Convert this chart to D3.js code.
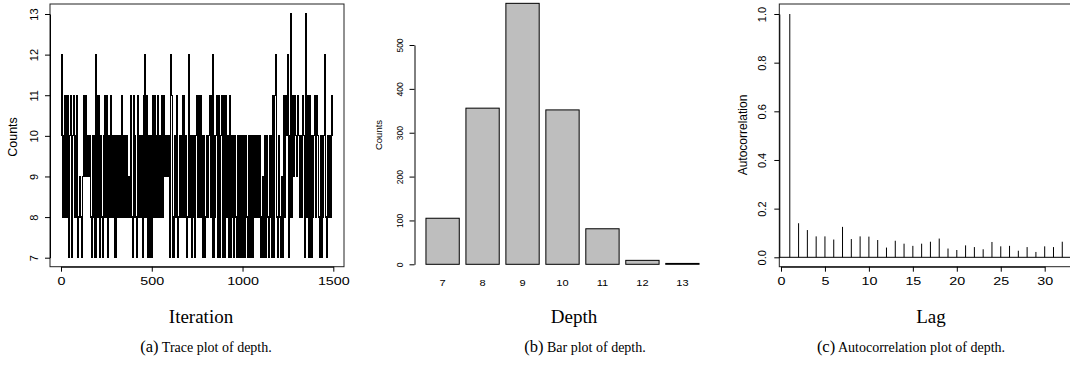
<!DOCTYPE html>
<html>
<head>
<meta charset="utf-8">
<script src="https://cdn.jsdelivr.net/npm/d3@7/dist/d3.min.js"></script>
<style>
  body { margin: 0; background: #fff; }
  svg { display: block; }
</style>
</head>
<body>
<svg id="fig" width="1070" height="367"></svg>
<script>
// ---- data ----
// trace: depth every 5th iteration (0..1495)
const traceStep = 5;
const traceDepth = [
  10,12,8,10,8,11,8,10,11,7,  10,11,7,10,11,8,10,8,11,7,
  8,9,8,7,9,11,10,9,11,9,     10,9,10,8,7,10,8,10,7,12,
  11,8,11,7,10,8,7,10,8,11,   8,11,7,10,8,11,8,10,8,10,
  7,10,8,10,8,10,8,11,8,10,   8,10,8,10,8,9,8,11,8,7,
  11,8,10,8,7,11,8,10,8,10,   7,11,8,12,8,11,7,10,7,10,
  7,11,8,11,8,10,8,11,8,10,   8,11,8,11,9,10,9,10,9,10,
  7,12,11,8,7,8,10,8,11,7,    8,10,8,10,11,8,11,8,10,7,
  8,12,8,10,7,10,8,10,7,10,   11,8,11,8,11,8,10,7,10,7,
  8,10,8,10,11,8,11,12,7,10,  8,10,11,7,11,7,10,11,8,7,
  11,7,11,8,10,7,11,7,10,8,   10,7,10,8,7,10,7,10,7,10,
  8,7,10,7,10,8,7,10,7,10,    7,10,7,10,8,10,8,10,8,10,
  7,8,7,9,7,10,7,10,8,7,      10,8,7,10,11,7,11,12,8,7,
  10,8,7,9,8,7,11,8,11,10,    12,7,10,13,8,10,11,9,11,10,
  9,11,10,8,10,8,10,11,10,7,  13,8,11,7,11,7,10,7,8,10,
  11,8,11,10,8,7,10,7,10,8,   10,12,8,7,10,8,10,8,10,11
];
const traceXTicks = [0, 500, 1000, 1500];
const traceYTicks = [7, 8, 9, 10, 11, 12, 13];

const depthLevels = ["7", "8", "9", "10", "11", "12", "13"];
const depthCounts = [105, 356, 595, 352, 81, 9, 2];
const barYTicks = [0, 100, 200, 300, 400, 500];

const acfLags = [1,2,3,4,5,6,7,8,9,10,11,12,13,14,15,16,17,18,19,20,21,22,23,24,25,26,27,28,29,30,31,32];
const acfValues = [1.0, 0.14, 0.112, 0.086, 0.086, 0.073, 0.125, 0.075, 0.086, 0.085, 0.071, 0.04,
  0.068, 0.056, 0.047, 0.056, 0.064, 0.077, 0.036, 0.03, 0.049, 0.042, 0.033, 0.063,
  0.045, 0.047, 0.027, 0.042, 0.022, 0.045, 0.042, 0.064];
const acfXTicks = [0, 5, 10, 15, 20, 25, 30];
const acfYTicks = [0, 0.2, 0.4, 0.6, 0.8, 1.0];

const captions = [
  { tag: "(a)", text: " Trace plot of depth.", cx: 206 },
  { tag: "(b)", text: " Bar plot of depth.", cx: 585 },
  { tag: "(c)", text: " Autocorrelation plot of depth.", cx: 911 }
];

// ---- drawing ----
const svg = d3.select("#fig");
const SANS = "'Liberation Sans', Arial, sans-serif";
const SERIF = "'Liberation Serif', 'Times New Roman', serif";

// R-like axes: bottom labels a bit stretched, left labels rotated
function bottomAxis(g, scale, ticks, y, size, labelY, stretch) {
  const ax = g.append("g").attr("transform", "translate(0," + y + ")")
    .call(d3.axisBottom(scale).tickValues(ticks).tickSize(5).tickSizeOuter(0)
      .tickFormat(d3.format("")));
  ax.select(".domain").attr("stroke", "#000");
  ax.selectAll(".tick line").attr("stroke", "#000");
  ax.selectAll("text")
    .attr("y", labelY).attr("dy", 0)
    .attr("transform", "scale(" + stretch + ",1)")
    .style("font-family", SANS).style("font-size", size + "px").attr("fill", "#000");
  return ax;
}
function leftAxis(g, scale, ticks, x, size, off, fmt) {
  const ax = g.append("g").attr("transform", "translate(" + x + ",0)")
    .call(d3.axisLeft(scale).tickValues(ticks).tickSize(5).tickSizeOuter(0).tickFormat(fmt));
  ax.select(".domain").attr("stroke", "#000");
  ax.selectAll(".tick line").attr("stroke", "#000");
  ax.selectAll("text")
    .attr("x", 0).attr("y", 0).attr("dy", 0)
    .attr("transform", "translate(" + (-off) + ",0) rotate(-90)")
    .style("text-anchor", "middle")
    .style("font-family", SANS).style("font-size", size + "px").attr("fill", "#000");
  return ax;
}

// (a) trace plot
const ga = svg.append("g");
const xT = d3.scaleLinear().domain([0, 1500]).range([61, 333.3]);
const yT = d3.scaleLinear().domain([7, 13]).range([257.7, 14]);

ga.append("path")
  .datum(traceDepth)
  .attr("fill", "none")
  .attr("stroke", "#000")
  .attr("stroke-width", 1.2)
  .attr("shape-rendering", "crispEdges")
  .attr("d", d3.line().curve(d3.curveStep)
    .x((d, i) => xT(i * traceStep)).y(d => yT(d)));

ga.append("rect").attr("x", 50).attr("y", 4).attr("width", 294).attr("height", 262.7)
  .attr("fill", "none").attr("stroke", "#222");
bottomAxis(ga, xT, traceXTicks, 266.7, 11, 18, 1.3);
leftAxis(ga, yT, traceYTicks, 50, 11, 12.5, d3.format(""));
ga.append("text").attr("transform", "translate(17,137) rotate(-90)")
  .attr("text-anchor", "middle").style("font-family", SANS).style("font-size", "12.5px")
  .text("Counts");
ga.append("text").attr("x", 201).attr("y", 323).attr("text-anchor", "middle")
  .style("font-family", SERIF).style("font-size", "19px").text("Iteration");

// (b) bar plot
const gb = svg.append("g");
const xB = d3.scaleBand().domain(depthLevels).range([419.3, 705.7])
  .paddingInner(0.2 / 1.2).paddingOuter(0.2 / 1.2);
const yB = d3.scaleLinear().domain([0, 500]).range([264.3, 45]);

gb.selectAll("rect.bar")
  .data(depthCounts)
  .enter().append("rect")
  .attr("class", "bar")
  .attr("x", (d, i) => xB(depthLevels[i]))
  .attr("y", d => yB(d))
  .attr("width", xB.bandwidth())
  .attr("height", d => yB(0) - yB(d))
  .attr("fill", "#bebebe")
  .attr("stroke", "#000")
  .attr("stroke-width", 1);

leftAxis(gb, yB, barYTicks, 414.5, 8.5, 11.5, d3.format(""));
gb.selectAll("text.lvl")
  .data(depthLevels)
  .enter().append("text")
  .attr("class", "lvl")
  .attr("transform", d => "translate(" + (xB(d) + xB.bandwidth() / 2) + ",285.8) scale(1.3,1)")
  .attr("text-anchor", "middle")
  .style("font-family", SANS).style("font-size", "8.5px")
  .text(d => d);
gb.append("text").attr("transform", "translate(382,135) rotate(-90)")
  .attr("text-anchor", "middle").style("font-family", SANS).style("font-size", "9.5px")
  .text("Counts");
gb.append("text").attr("x", 574).attr("y", 323).attr("text-anchor", "middle")
  .style("font-family", SERIF).style("font-size", "19px").text("Depth");

// (c) autocorrelation
const gc = svg.append("g");
const xC = d3.scaleLinear().domain([0, 30]).range([781, 1044.7]);
const yC = d3.scaleLinear().domain([0, 1]).range([257.3, 14]);

gc.selectAll("line.acf")
  .data(acfValues)
  .enter().append("line")
  .attr("class", "acf")
  .attr("x1", (d, i) => xC(acfLags[i]))
  .attr("x2", (d, i) => xC(acfLags[i]))
  .attr("y1", yC(0))
  .attr("y2", d => yC(d))
  .attr("stroke", "#000")
  .attr("stroke-width", 1);

gc.append("line").attr("x1", 779.3).attr("x2", 1080).attr("y1", yC(0)).attr("y2", yC(0))
  .attr("stroke", "#000");
gc.append("rect").attr("x", 779.3).attr("y", 4).attr("width", 320).attr("height", 262.7)
  .attr("fill", "none").attr("stroke", "#222");
bottomAxis(gc, xC, acfXTicks, 266.7, 11, 18, 1.3);
leftAxis(gc, yC, acfYTicks, 779.3, 11, 13.5, d3.format(".1f"));
gc.append("text").attr("transform", "translate(747,135) rotate(-90)")
  .attr("text-anchor", "middle").style("font-family", SANS).style("font-size", "12px")
  .text("Autocorrelation");
gc.append("text").attr("x", 931).attr("y", 323).attr("text-anchor", "middle")
  .style("font-family", SERIF).style("font-size", "19px").text("Lag");

// captions
captions.forEach(c => {
  const t = svg.append("text").attr("x", c.cx).attr("y", 352).attr("text-anchor", "middle")
    .style("font-family", SERIF);
  t.append("tspan").style("font-size", "16.5px").text(c.tag);
  t.append("tspan").style("font-size", "14px").text(c.text);
});
</script>
</body>
</html>
